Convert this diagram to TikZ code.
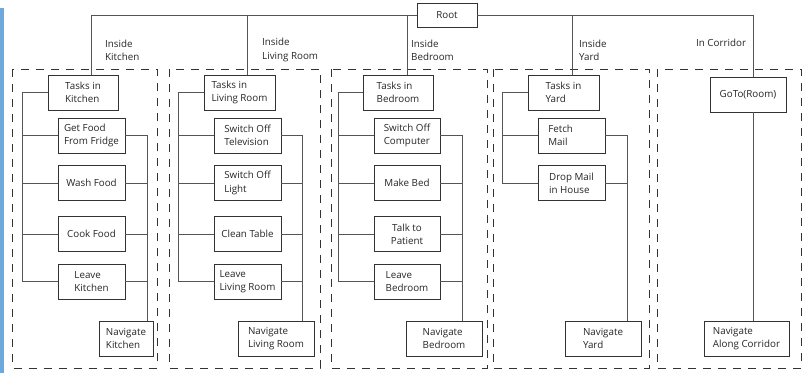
\documentclass[tikz,border=0pt]{standalone}
\usepackage{fontspec}
\setmainfont{Open Sans}
\definecolor{boxline}{HTML}{333333}
\definecolor{conn}{HTML}{555555}
\definecolor{sidebar}{HTML}{6FA8DC}
\begin{document}
\begin{tikzpicture}[x=1pt,y=-1pt,
  every node/.style={font=\fontsize{9.8}{13.3}\selectfont, text=black!85},
  bx/.style={draw=boxline, line width=0.9pt, fill=white, inner sep=0pt, align=left, minimum height=35pt},
  conline/.style={draw=conn, line width=0.9pt},
  room/.style={draw=boxline, line width=0.8pt, dash pattern=on 8pt off 7pt},
  lbl/.style={anchor=west, align=left, inner sep=0pt}]
\useasboundingbox (0,0) rectangle (809,373);
\fill[sidebar] (0,8) rectangle (4,373);

% dashed room frames
\draw[room] (12.7,69) rectangle (157,368);
\draw[room] (169,69) rectangle (320,368);
\draw[room] (331,69) rectangle (487,368);
\draw[room] (493,69) rectangle (649,368);
\draw[room] (657,69) rectangle (801,368);

% root
\node[bx, minimum width=60pt, minimum height=24pt, align=center] (root) at (447,15) {Root};

% kitchen
\node[bx, minimum width=70pt] (tk) at (83,92.5) {Tasks in\\Kitchen};
\node[bx, minimum width=67pt] (k1) at (91.5,135.5) {Get Food\\From Fridge};
\node[bx, minimum width=67pt] (k2) at (91.5,183) {Wash Food};
\node[bx, minimum width=67pt] (k3) at (91.5,234) {Cook Food};
\node[bx, minimum width=67pt] (k4) at (91.5,281.5) {Leave\\Kitchen};
\node[bx, minimum width=54pt] (kn) at (126,338.5) {Navigate\\Kitchen};

% living room
\node[bx, minimum width=71pt] (tl) at (239.5,92.5) {Tasks in\\Living Room};
\node[bx, minimum width=67pt] (l1) at (247.5,135.5) {Switch Off\\Television};
\node[bx, minimum width=67pt] (l2) at (247.5,183) {Switch Off\\Light};
\node[bx, minimum width=67pt] (l3) at (247.5,234) {Clean Table};
\node[bx, minimum width=67pt] (l4) at (247.5,281.5) {Leave\\Living Room};
\node[bx, minimum width=76pt] (ln) at (276,338.5) {Navigate\\Living Room};

% bedroom
\node[bx, minimum width=70pt] (tb) at (398,92.5) {Tasks in\\Bedroom};
\node[bx, minimum width=66pt] (b1) at (407,135.5) {Switch Off\\Computer};
\node[bx, minimum width=66pt] (b2) at (407,183) {Make Bed};
\node[bx, minimum width=66pt, align=center] (b3) at (407,234) {Talk to\\Patient};
\node[bx, minimum width=66pt] (b4) at (407,281.5) {Leave\\Bedroom};
\node[bx, minimum width=76pt] (bn) at (444,338.5) {Navigate\\Bedroom};

% yard
\node[bx, minimum width=71pt] (ty) at (563.5,92.5) {Tasks in\\Yard};
\node[bx, minimum width=67pt] (y1) at (571.5,135.5) {Fetch\phantom{ Mail}\\Mail\phantom{ Mail}};
\node[bx, minimum width=67pt] (y2) at (571.5,183) {Drop Mail\\in House};
\node[bx, minimum width=76pt] (yn) at (603,338.5) {Navigate\\Yard};

% corridor
\node[bx, minimum width=76pt, align=center] (gt) at (748,94.5) {GoTo(Room)};
\node[bx, minimum width=85pt] (cn) at (746.5,338.5) {Navigate\\Along Corridor};

% labels
\node[lbl] (lk) at (105,50) {Inside\\Kitchen};
\node[lbl] (ll) at (262,50) {Inside\\Living Room};
\node[lbl] (lb) at (411,50) {Inside\\Bedroom};
\node[lbl] (ly) at (579,50) {Inside\\Yard};
\node[lbl] (lc) at (696,43) {In Corridor};

% column x positions
\coordinate (kL) at (22,0);  \coordinate (kR) at (147,0);
\coordinate (lL) at (178,0); \coordinate (lR) at (302,0);
\coordinate (bL) at (338,0); \coordinate (bR) at (462,0);
\coordinate (yL) at (502,0); \coordinate (yR) at (627,0);

% root connectors
\draw[conline] (root.west) -| ([xshift=8pt]tk.north);
\draw[conline] (root.west) -| ([xshift=7.5pt]tl.north);
\draw[conline] (root.west) -| ([xshift=9pt]tb.north);
\draw[conline] (root.east) -| ([xshift=8.5pt]ty.north);
\draw[conline] (root.east) -| ([xshift=5pt]gt.north);

% kitchen connectors
\draw[conline] (tk.west) -| (kL |- k4.west) -- (k4.west);
\foreach \n in {k1,k2,k3} \draw[conline] (\n.west) -- (\n.west -| kL);
\draw[conline] (k1.east) -| (kR |- kn.north);
\foreach \n in {k2,k3,k4} \draw[conline] (\n.east) -- (\n.east -| kR);

% living connectors
\draw[conline] (tl.west) -| (lL |- l4.west) -- (l4.west);
\foreach \n in {l1,l2,l3} \draw[conline] (\n.west) -- (\n.west -| lL);
\draw[conline] (l1.east) -| (lR |- ln.north);
\foreach \n in {l2,l3,l4} \draw[conline] (\n.east) -- (\n.east -| lR);

% bedroom connectors
\draw[conline] (tb.west) -| (bL |- b4.west) -- (b4.west);
\foreach \n in {b1,b2,b3} \draw[conline] (\n.west) -- (\n.west -| bL);
\draw[conline] (b1.east) -| (bR |- bn.north);
\foreach \n in {b2,b3,b4} \draw[conline] (\n.east) -- (\n.east -| bR);

% yard connectors
\draw[conline] (ty.west) -| (yL |- y2.west) -- (y2.west);
\draw[conline] (y1.west) -- (y1.west -| yL);
\draw[conline] (y1.east) -| (yR |- yn.north);
\draw[conline] (y2.east) -- (y2.east -| yR);

% corridor connector
\draw[conline] ([xshift=5pt]gt.south) -- ([xshift=5pt]gt.south |- cn.north);
\end{tikzpicture}
\end{document}
